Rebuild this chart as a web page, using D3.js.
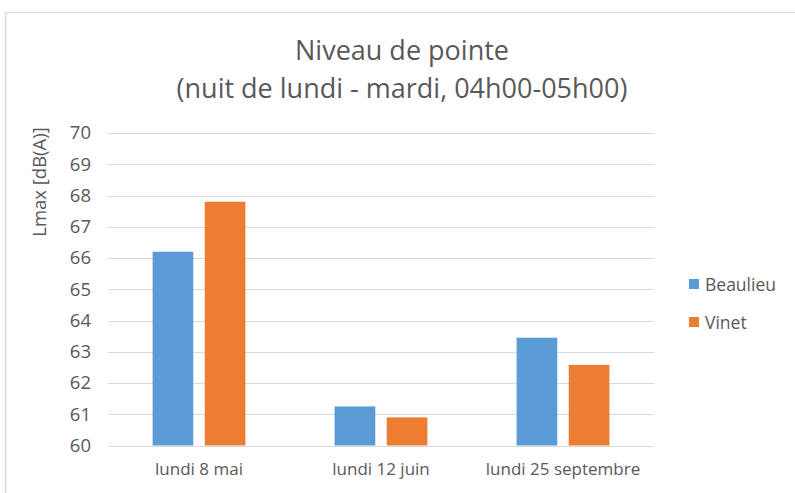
<!DOCTYPE html>
<html>
<head>
<meta charset="utf-8">
<script src="https://cdn.jsdelivr.net/npm/d3@7"></script>
<style>
  body { margin: 0; background: #fff; }
  text { font-family: "Open Sans", sans-serif; fill: #595959; }
</style>
</head>
<body>
<div id="chart"></div>
<script>
var width = 795;
var height = 493;

var categories = ["lundi 8 mai", "lundi 12 juin", "lundi 25 septembre"];
var seriesNames = ["Beaulieu", "Vinet"];
var beaulieu = [66.2, 61.25, 63.45];
var vinet = [67.8, 60.9, 62.58];
var yTicks = [60, 61, 62, 63, 64, 65, 66, 67, 68, 69, 70];
var colors = ["#5b9bd5", "#ed7d31"];

var margin = { left: 108, right: 141, top: 133, bottom: 47 };

function createSVG() {
  return d3.select("#chart")
    .append("svg")
    .attr("width", width)
    .attr("height", height);
}

function main() {
  var svg = createSVG();

  // chart frame (only top and left visible in the crop)
  svg.append("rect")
    .attr("x", 5.5)
    .attr("y", 12.5)
    .attr("width", 900)
    .attr("height", 600)
    .style("fill", "none")
    .style("stroke", "#d9d9d9")
    .style("stroke-width", 1.5);

  var y = d3.scaleLinear()
    .domain([60, 70])
    .range([height - margin.bottom - 0.5, margin.top]);

  var x0 = d3.scaleBand()
    .domain(categories)
    .range([margin.left, width - margin.right])
    .paddingInner(0.49)
    .paddingOuter(0.245);

  var x1 = d3.scaleBand()
    .domain(seriesNames)
    .range([0, x0.bandwidth()])
    .paddingInner(0.22);

  // gridlines
  svg.append("g")
    .selectAll("line")
    .data(yTicks)
    .enter()
    .append("line")
    .attr("x1", margin.left)
    .attr("x2", width - margin.right)
    .attr("y1", function(d) { return Math.round(y(d)) + 0.5; })
    .attr("y2", function(d) { return Math.round(y(d)) + 0.5; })
    .style("stroke", "#d9d9d9")
    .style("stroke-width", 1.2);

  // y axis labels
  var yAxis = svg.append("g")
    .attr("transform", "translate(" + margin.left + ",0)")
    .call(d3.axisLeft(y).tickValues(yTicks).tickSize(0).tickPadding(17));
  yAxis.select(".domain").remove();
  yAxis.selectAll("text")
    .style("font-size", "18.5px")
    .style("fill", "#595959");

  // bars
  var rows = categories.map(function(c, i) {
    return { cat: c, values: [beaulieu[i], vinet[i]] };
  });

  var groups = svg.append("g")
    .selectAll("g")
    .data(rows)
    .enter()
    .append("g")
    .attr("transform", function(d) { return "translate(" + x0(d.cat) + ",0)"; });

  groups.selectAll("rect")
    .data(function(d) {
      return d.values.map(function(v, j) { return { name: seriesNames[j], value: v, color: colors[j] }; });
    })
    .enter()
    .append("rect")
    .attr("x", function(d) { return x1(d.name); })
    .attr("y", function(d) { return y(d.value); })
    .attr("width", x1.bandwidth())
    .attr("height", function(d) { return y(60) - y(d.value); })
    .style("fill", function(d) { return d.color; });

  // category labels
  var xAxis = svg.append("g")
    .attr("transform", "translate(0," + y(60) + ")")
    .call(d3.axisBottom(x0).tickSize(0).tickPadding(17));
  xAxis.select(".domain").remove();
  xAxis.selectAll("text")
    .style("font-size", "17px")
    .style("fill", "#595959");

  // y axis title
  svg.append("text")
    .attr("transform", "translate(46,182) rotate(-90)")
    .attr("text-anchor", "middle")
    .style("font-size", "18.5px")
    .text("Lmax [dB(A)]");

  // title
  svg.append("text")
    .attr("x", 402)
    .attr("y", 60)
    .attr("text-anchor", "middle")
    .style("font-size", "27px")
    .text("Niveau de pointe");
  svg.append("text")
    .attr("x", 402)
    .attr("y", 98)
    .attr("text-anchor", "middle")
    .style("font-size", "27px")
    .text("(nuit de lundi - mardi, 04h00-05h00)");

  // legend
  var legend = svg.append("g")
    .attr("transform", "translate(689,279)");

  legend.selectAll("rect")
    .data(seriesNames)
    .enter()
    .append("rect")
    .attr("x", 0)
    .attr("y", function(d, i) { return i * 38; })
    .attr("width", 10)
    .attr("height", 10)
    .style("fill", function(d, i) { return colors[i]; });

  legend.selectAll("text")
    .data(seriesNames)
    .enter()
    .append("text")
    .attr("x", 16)
    .attr("y", function(d, i) { return i * 38 + 12; })
    .style("font-size", "17.5px")
    .text(function(d) { return d; });
}

window.onload = function() {
  main();
};
</script>
</body>
</html>
